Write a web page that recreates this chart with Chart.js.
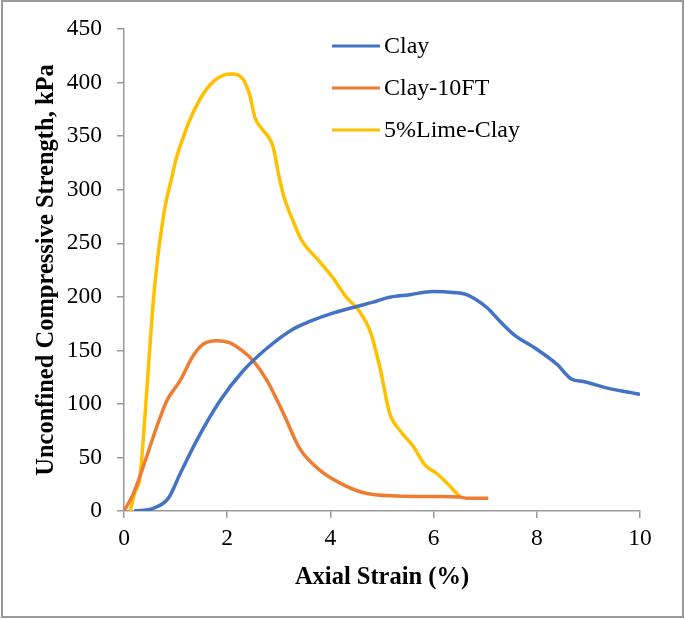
<!DOCTYPE html>
<html>
<head>
<meta charset="utf-8">
<script src="https://cdn.jsdelivr.net/npm/chart.js@4.4.1/dist/chart.umd.min.js"></script>
<style>
  body { margin: 0; background: #fff; }
  #wrap { position: relative; width: 685px; height: 619px; }
  #frame { position: absolute; left: 1px; top: 0; width: 683px; height: 618px;
           box-sizing: border-box; border: 2px solid #9a9a9a; pointer-events: none; }
  canvas { position: absolute; left: 0; top: 0; }
</style>
</head>
<body>
<div id="wrap">
  <canvas id="ucs" width="685" height="619"></canvas>
  <div id="frame"></div>
</div>
<script>
// --- data (strain %, kPa) ---
const clayStrain = [0.2, 0.57, 0.86, 1.09, 1.41, 1.86, 2.31, 2.77, 3.28, 3.6, 4.06, 4.51, 4.83, 5.09, 5.54, 5.99, 6.38, 6.64, 7.03, 7.29, 7.55, 8.0, 8.39, 8.68, 8.9, 9.35, 10.0];
const clayUcs = [0, 2.5, 12, 35, 66, 103, 131, 152, 170, 177, 185, 191, 195, 199, 202, 205, 204, 202, 190, 177, 165, 151, 137, 123, 121, 115, 109];

const ftStrain = [0, 0.18, 0.37, 0.63, 0.83, 1.09, 1.34, 1.54, 1.8, 2.05, 2.31, 2.51, 2.77, 3.09, 3.41, 3.8, 4.19, 4.64, 5.28, 6.0, 6.51, 6.65, 7.06];
const ftUcs = [0, 16, 41, 78, 103, 122, 145, 156, 159, 157, 149, 140, 122, 91, 58, 38, 26, 17, 14, 13.5, 13, 12, 12];

const limeStrain = [0.12, 0.21, 0.31, 0.41, 0.5, 0.57, 0.65, 0.73, 0.82, 0.92, 1.0, 1.09, 1.31, 1.6, 1.93, 2.1, 2.31, 2.44, 2.54, 2.67, 2.89, 2.99, 3.09, 3.31, 3.44, 3.77, 4.06, 4.32, 4.54, 4.77, 4.96, 5.15, 5.35, 5.61, 5.83, 6.06, 6.32, 6.51];
const limeUcs = [0, 17, 32, 91, 152, 197, 235, 264, 290, 310, 327, 341, 369, 394, 407, 408, 403, 388, 367, 357, 340, 316, 295, 267, 253, 234, 217, 199, 188, 168, 134, 91, 75, 60, 43, 35, 23, 13];

const seriesNames = ['Clay', 'Clay-10FT', '5%Lime-Clay'];
const seriesColors = ['#4472C4', '#ED7D31', '#FFC000'];
const xTicks = [0, 2, 4, 6, 8, 10];
const yTicks = [0, 50, 100, 150, 200, 250, 300, 350, 400, 450];

const SERIF = '"Liberation Serif", "Times New Roman", serif';
const AXIS_GREY = '#9a9a9a';

function toPoints(xs, ys) {
  return xs.map((x, i) => ({ x: x, y: ys[i] }));
}

// legend drawn inside the plot, top right, like the Excel original
const insideLegend = {
  id: 'insideLegend',
  afterDraw(chart) {
    const ctx = chart.ctx;
    ctx.save();
    ctx.font = '24px ' + SERIF;
    ctx.textBaseline = 'middle';
    chart.data.datasets.forEach((ds, i) => {
      const y = 46 + i * 42;
      ctx.strokeStyle = ds.borderColor;
      ctx.lineWidth = 3;
      ctx.beginPath();
      ctx.moveTo(332, y);
      ctx.lineTo(380, y);
      ctx.stroke();
      ctx.fillStyle = '#000';
      ctx.fillText(ds.label, 384, y + 1);
    });
    ctx.restore();
  }
};

const datasets = [
  toPoints(clayStrain, clayUcs),
  toPoints(ftStrain, ftUcs),
  toPoints(limeStrain, limeUcs)
].map((pts, i) => ({
  label: seriesNames[i],
  data: pts,
  borderColor: seriesColors[i],
  backgroundColor: seriesColors[i],
  borderWidth: 3.5,
  showLine: true,
  pointRadius: 0,
  cubicInterpolationMode: 'monotone'
}));

new Chart(document.getElementById('ucs'), {
  type: 'scatter',
  data: { datasets },
  options: {
    responsive: false,
    animation: false,
    layout: { padding: { left: 0, top: 26, right: 45, bottom: 0 } },
    plugins: {
      legend: { display: false },
      tooltip: { enabled: false }
    },
    scales: {
      x: {
        type: 'linear',
        min: 0,
        max: 10,
        afterBuildTicks: s => { s.ticks = xTicks.map(v => ({ value: v })); },
        afterFit: s => { s.height = 108; },
        grid: { display: true, drawOnChartArea: false, drawTicks: true, tickLength: 7, color: AXIS_GREY, lineWidth: 1.5 },
        border: { display: true, color: AXIS_GREY, width: 1.5 },
        ticks: { color: '#000', font: { family: SERIF, size: 23.5 }, padding: 7, maxRotation: 0 },
        title: {
          display: true,
          text: 'Axial Strain (%)',
          color: '#000',
          font: { family: SERIF, size: 24.5, weight: 'bold' },
          padding: { top: 0, bottom: 27 }
        }
      },
      y: {
        min: 0,
        max: 450,
        afterBuildTicks: s => { s.ticks = yTicks.map(v => ({ value: v })); },
        afterFit: s => { s.width = 124; },
        grid: { display: true, drawOnChartArea: false, drawTicks: true, tickLength: 7, color: AXIS_GREY, lineWidth: 1.5 },
        border: { display: true, color: AXIS_GREY, width: 1.5 },
        ticks: { color: '#000', font: { family: SERIF, size: 23.5 }, padding: 15 },
        title: {
          display: true,
          text: 'Unconfined Compressive Strength, kPa',
          color: '#000',
          font: { family: SERIF, size: 24.5, weight: 'bold' },
          padding: { top: 32, bottom: 0 }
        }
      }
    }
  },
  plugins: [insideLegend]
});
</script>
</body>
</html>
